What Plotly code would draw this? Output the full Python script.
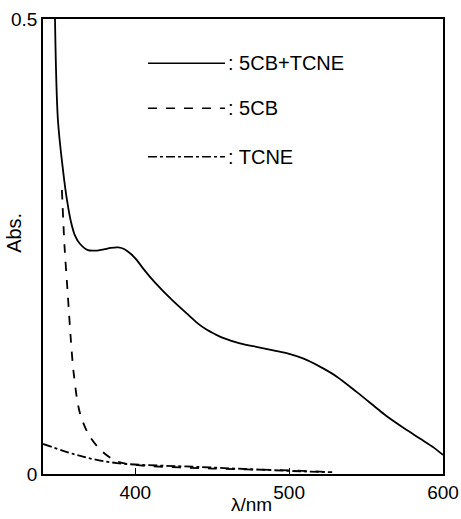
import plotly.graph_objects as go

# Data
wl_mix = [347.8, 349.7, 353.0, 355.6, 358.2, 360.8, 364.0, 369.2, 374, 380, 384, 389, 393, 397, 401, 405, 413, 424,
          435, 441, 446, 452, 457, 468, 481, 492, 500, 509, 520, 531, 544, 555, 563, 575, 585, 594, 600]
abs_mix = [0.500, 0.389, 0.334, 0.301, 0.277, 0.262, 0.253, 0.246, 0.2455, 0.247, 0.2485, 0.249, 0.247, 0.242, 0.235, 0.226, 0.210, 0.191,
           0.174, 0.165, 0.159, 0.1535, 0.1495, 0.1435, 0.139, 0.135, 0.132, 0.127, 0.118, 0.107, 0.090, 0.075, 0.064, 0.050, 0.039, 0.029, 0.021]

wl_5cb = [352.3, 354, 356, 358, 360, 364, 370.5, 379, 388, 400, 450, 500, 528]
abs_5cb = [0.312, 0.25, 0.2, 0.15, 0.11, 0.067, 0.041, 0.024, 0.014, 0.010, 0.006, 0.004, 0.002]

wl_tcne = [340, 366, 388, 442, 507, 528]
abs_tcne = [0.033, 0.019, 0.012, 0.0077, 0.003, 0.002]

x_ticks = [400, 500, 600]
y_ticks = [0, 0.5]
y_tick_labels = ["0", "0.5"]
legend_labels = [": 5CB+TCNE", ": 5CB", ": TCNE"]
dashes = ["solid", "dash", "dashdot"]

FONT = "Liberation Sans"
fig = go.Figure()
for xs, ys, d in [(wl_mix, abs_mix, "solid"), (wl_5cb, abs_5cb, "dash"), (wl_tcne, abs_tcne, "dashdot")]:
    fig.add_trace(go.Scatter(x=xs, y=ys, mode="lines",
                             line=dict(color="black", width=1.8, dash=d, shape="spline", smoothing=0.9),
                             showlegend=False, cliponaxis=True))

# legend built from shapes + text
rows_y = [0.903, 0.804, 0.697]
for lab, d, yy in zip(legend_labels, dashes, rows_y):
    fig.add_shape(type="line", xref="paper", yref="paper", x0=0.2625, x1=0.455, y0=yy, y1=yy,
                  line=dict(color="black", width=1.5, dash=d))
    fig.add_annotation(xref="paper", yref="paper", x=0.458, y=yy, xanchor="left", yanchor="middle",
                       text=lab, showarrow=False, font=dict(family=FONT, size=20, color="black"))

# axis titles
fig.add_annotation(xref="paper", yref="paper", x=0.52, y=-0.0945, xanchor="center", yanchor="bottom",
                   text="λ/nm", showarrow=False, font=dict(family=FONT, size=19, color="black"))
fig.add_annotation(xref="paper", yref="paper", x=-0.0725, y=0.53, xanchor="center", yanchor="middle",
                   text="Abs.", textangle=-90, showarrow=False, font=dict(family=FONT, size=20, color="black"))

fig.update_layout(
    width=461, height=519,
    margin=dict(l=43, r=18, t=19, b=45),
    plot_bgcolor="white", paper_bgcolor="white",
    font=dict(family=FONT, size=19, color="black"),
)
fig.update_xaxes(range=[340, 600], tickvals=x_ticks, ticks="inside", ticklen=6, tickcolor="black",
                 showline=True, linecolor="black", linewidth=1.5, mirror=True, showgrid=False, zeroline=False,
                 automargin=False, tickfont=dict(size=19))
fig.update_yaxes(range=[0, 0.5], tickvals=y_ticks, ticktext=y_tick_labels, ticks="", ticklen=0,
                 showline=True, linecolor="black", linewidth=1.5, mirror=True, showgrid=False, zeroline=False,
                 automargin=False, tickfont=dict(size=19))

fig.write_html("out.html")
